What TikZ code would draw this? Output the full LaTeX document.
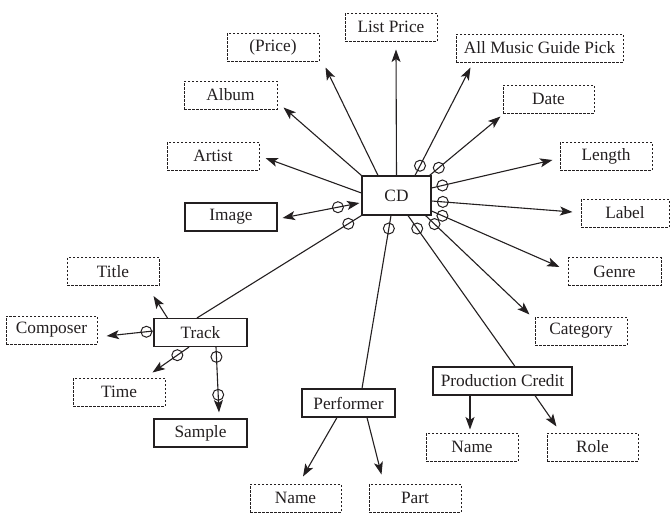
\documentclass[tikz,border=0pt]{standalone}
\usepackage{fontspec}
\setmainfont{Liberation Serif}
\usetikzlibrary{arrows.meta,calc}
\definecolor{ink}{RGB}{35,31,32}
\begin{document}
\begin{tikzpicture}[x=1pt,y=-1pt,color=ink,
  font=\fontsize{17.3}{20}\selectfont,
  entity/.style={draw,line width=1.1pt,minimum height=28pt,inner sep=0pt},
  attr/.style={draw,line width=1pt,dash pattern=on 2.5pt off 1.5pt,minimum height=28pt,inner sep=0pt},
  link/.style={line width=1.1pt},
  tip/.tip={Stealth[length=12.5pt,width=9pt,inset=3pt]},
  arr/.style={link,-tip},
  darr/.style={link,tip-tip},
  ring/.style={draw,circle,line width=1pt,minimum size=11pt,inner sep=0pt}
]
\useasboundingbox (0,0) rectangle (670,515);

% central entity
\node[entity,minimum width=69pt,minimum height=39pt] (cd) at (396.5,195.5) {CD};

% attributes of CD
\node[attr,minimum width=92pt]  (listprice) at (391,27)    {List Price};
\node[attr,minimum width=92pt]  (price)     at (273,47)    {(Price)};
\node[attr,minimum width=93pt]  (album)     at (230.5,95)  {Album};
\node[attr,minimum width=167pt] (amg)       at (539.5,48)  {All Music Guide Pick};
\node[attr,minimum width=91pt]  (date)      at (548.5,99)  {Date};
\node[attr,minimum width=92pt]  (length)    at (606,156)   {Length};
\node[attr,minimum width=88pt]  (label)     at (625,213)   {Label};
\node[attr,minimum width=93pt]  (genre)     at (614.5,271.5) {Genre};
\node[attr,minimum width=92pt]  (category)  at (581,331)   {Category};
\node[attr,minimum width=92pt]  (artist)    at (213,156)   {Artist};
\node[entity,minimum width=92pt] (image)    at (231,217)   {Image};

% track and its attributes
\node[entity,minimum width=93pt] (track)    at (200.5,332.5) {Track};
\node[attr,minimum width=92pt]  (title)     at (113,271.5) {Title};
\node[attr,minimum width=91pt]  (composer)  at (51.5,330)  {Composer};
\node[attr,minimum width=92pt]  (time)      at (119,392)   {Time};
\node[entity,minimum width=93pt] (sample)   at (200.5,433) {Sample};

% performer
\node[entity,minimum width=93pt] (performer) at (348.5,403) {Performer};
\node[attr,minimum width=91pt]  (pname)     at (295.5,498) {Name};
\node[attr,minimum width=92pt]  (part)      at (415,498)   {Part};

% production credit
\node[entity,minimum width=139pt] (credit)  at (502.5,381) {Production Credit};
\node[attr,minimum width=92pt]  (cname)     at (472,447)   {Name};
\node[attr,minimum width=91pt]  (role)      at (592.5,447) {Role};

% connectors from CD
\draw[arr] (cd.north) -- ($(listprice.south)+(5,8)$);
\draw[arr] ($(cd.north)+(-18.5,0)$) -- ($(price.south east)+(6,6)$);
\draw[arr] (cd.north west) -- ($(album.south east)+(6,-2)$);
\draw[arr] ($(cd.west)+(0,-2.5)$) -- ($(artist.east)+(6,2)$);
\draw[darr] ($(cd.west)+(-2,7.5)$) -- node[ring,pos=0.28]{} ($(image.east)+(5,1)$);
\draw[arr] ($(cd.north)+(18.5,0)$) -- node[ring,pos=0.09]{} ($(amg.south west)+(15,5)$);
\draw[arr] ($(cd.north east)+(-2,0)$) -- node[ring,pos=0.13]{} ($(date.south west)+(-2,3)$);
\draw[arr] ($(cd.east)+(0,-7.5)$) -- node[ring,pos=0.09]{} ($(length.west)+(-7,4)$);
\draw[arr] ($(cd.east)+(0,5.5)$) -- node[ring,pos=0.08]{} ($(label.west)+(-8,-1)$);
\draw[arr] ($(cd.east)+(0,15.5)$) -- node[ring,pos=0.085]{} ($(genre.west)+(-8,-4.5)$);
\draw[arr] ($(cd.south east)+(-6,0)$) -- node[ring,pos=0.086]{} ($(category.north west)+(-5,-2)$);
\draw[link] ($(cd.south)+(11.5,0)$) -- node[ring,pos=0.086]{} ($(credit.north)+(12.5,0)$);
\draw[link] ($(cd.south)+(-5.5,0)$) -- node[ring,pos=0.075]{} ($(performer.north)+(13.5,0)$);
\draw[link] (cd.south west) -- node[ring,pos=0.08]{} ($(track.north)+(-3.5,0)$);

% connectors from Track
\draw[arr] ($(track.north west)+(14,0)$) -- ($(title.south east)+(-6,10)$);
\draw[arr] ($(track.west)+(0,-1.5)$) -- node[ring,pos=0.15]{} ($(composer.east)+(9,6)$);
\draw[arr] ($(track.south)+(-11.5,0)$) -- node[ring,pos=0.32]{} ($(time.north east)+(-13,-5)$);
\draw[arr] ($(track.south)+(15.5,0)$) -- node[ring,pos=0.15]{} node[ring,pos=0.73]{} ($(sample.north)+(18.5,-6)$);

% connectors from Performer
\draw[arr] ($(performer.south)+(-11.5,0)$) -- ($(pname.north)+(7.5,-7)$);
\draw[arr] ($(performer.south)+(18.5,0)$) -- ($(part.north west)+(13,-9)$);

% connectors from Production Credit
\draw[arr] ($(credit.south)+(-32.5,0)$) -- ($(cname.north)+(-2,-3)$);
\draw[arr] ($(credit.south)+(32.5,0)$) -- ($(role.north west)+(10,-6)$);
\end{tikzpicture}
\end{document}
